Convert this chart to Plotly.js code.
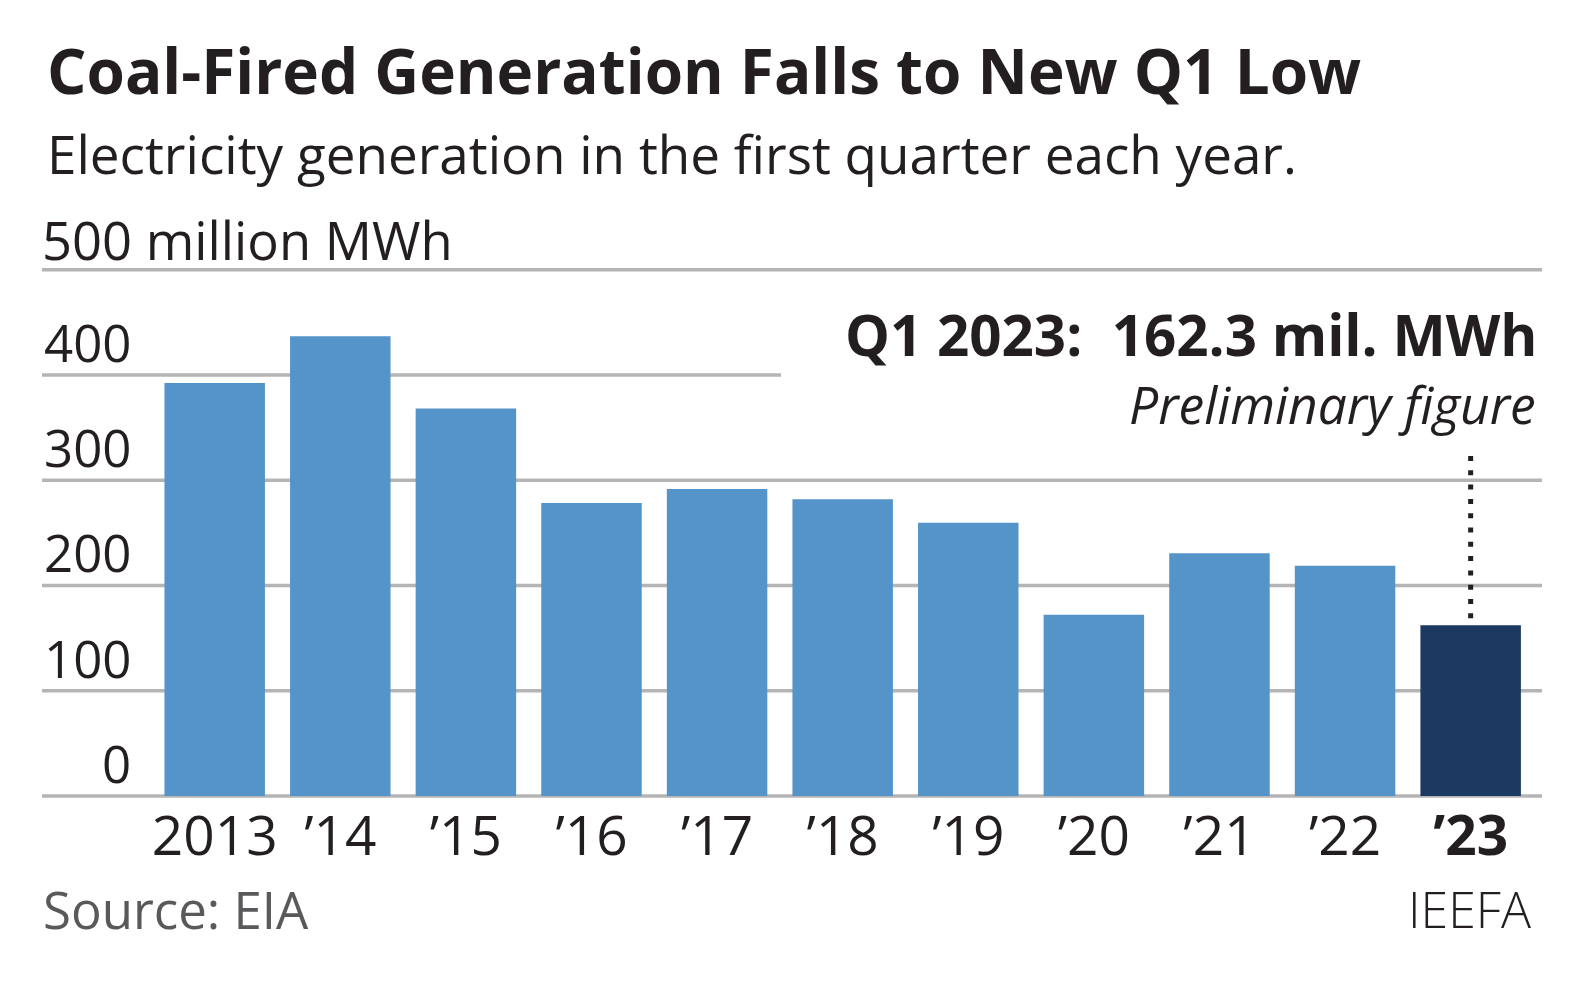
<!DOCTYPE html>
<html>
<head>
<meta charset="utf-8">
<script src="https://cdn.plot.ly/plotly-3.0.1.min.js"></script>
<style>
  html, body { margin: 0; padding: 0; background: #ffffff; }
  #chart { width: 1584px; height: 984px; }
</style>
</head>
<body>
<div id="chart"></div>
<script>
// ---- Data ----
const categories = ['2013', '2014', '2015', '2016', '2017', '2018', '2019', '2020', '2021', '2022', '2023'];
const tickLabels = ['2013', '\u201914', '\u201915', '\u201916', '\u201917', '\u201918', '\u201919', '\u201920', '\u201921', '\u201922', '<b>\u201923</b>'];
const generation = [392.4, 436.8, 368.1, 278.3, 291.6, 281.8, 259.7, 172.2, 230.5, 218.8, 162.3];
const yTickVals = [0, 100, 200, 300, 400];
const yTickText = ['0', '100', '200', '300', '400'];
const gridVals = [0, 100, 200, 300, 400, 500];
const unitLabel = '500 million MWh';
const titleText = 'Coal-Fired Generation Falls to New Q1 Low';
const subtitleText = 'Electricity generation in the first quarter each year.';
const calloutText = 'Q1 2023:\u00a0\u00a0162.3 mil. MWh';
const calloutNote = 'Preliminary figure';
const sourceText = 'Source: EIA';
const creditText = 'IEEFA';

// ---- Style / layout helpers ----
const W = 1584, H = 984;
const M = { l: 42, r: 42, t: 266, b: 184 };
const PW = W - M.l - M.r, PH = H - M.t - M.b;
const fx = px => (px - M.l) / PW;
const fy = py => (H - M.b - py) / PH;

const FONT = 'Open Sans, Noto Sans, Lato, sans-serif';
const INK = '#231f20';
const LIGHT = '#5594c9';
const DARK = '#1b3961';
const GRID = '#b5b5b5';
const lastIdx = categories.length - 1;
const barColors = categories.map((c, i) => i === lastIdx ? DARK : LIGHT);

const trace = {
  type: 'bar',
  x: categories,
  y: generation,
  marker: { color: barColors, line: { width: 0 } },
  hoverinfo: 'skip'
};

const shapes = gridVals.map(v => ({
  type: 'line', layer: 'below',
  xref: 'paper', yref: 'y',
  x0: 0, x1: v === 400 ? fx(781) : 1,
  y0: v, y1: v,
  line: { color: GRID, width: 3.5 }
}));
// dotted connector from the callout down to the highlighted bar
shapes.push({
  type: 'line', layer: 'above',
  xref: 'x', yref: 'y',
  x0: lastIdx, x1: lastIdx,
  y0: generation[lastIdx] + 6.5, y1: 324,
  line: { color: INK, width: 5, dash: '5px,9.3px' }
});

const annotations = [];
function addText(text, xpx, ypx, anchor, size, opts) {
  opts = opts || {};
  annotations.push({
    text: text, xref: 'paper', yref: 'paper',
    x: fx(xpx), y: fy(ypx), xanchor: anchor, yanchor: 'middle',
    showarrow: false,
    font: Object.assign({ family: FONT, size: size, color: INK }, opts.font || {})
  });
}
addText(titleText, 45, 70, 'left', 62, { font: { weight: 700 } });
addText(subtitleText, 45, 153, 'left', 53);
addText(unitLabel, 40, 239, 'left', 52.5);
addText(calloutText, 1539, 334, 'right', 56.5, { font: { weight: 700 } });
addText(calloutNote, 1538, 404, 'right', 51.5, { font: { style: 'italic' } });
addText(sourceText, 41, 909, 'left', 51, { font: { color: '#58595b' } });
addText(creditText, 1533, 909, 'right', 50, { font: { weight: 300 } });

// y tick labels, right-aligned above the gridlines
yTickVals.forEach((v, i) => {
  annotations.push({
    text: yTickText[i], xref: 'paper', yref: 'y',
    x: fx(133), y: v, xanchor: 'right', yanchor: 'bottom', yshift: -4,
    showarrow: false,
    font: { family: FONT, size: 51, color: INK }
  });
});

const layout = {
  width: W, height: H,
  margin: M,
  paper_bgcolor: '#ffffff', plot_bgcolor: 'rgba(0,0,0,0)',
  showlegend: false,
  bargap: 0.2,
  xaxis: {
    type: 'category',
    range: [-1.375, 10.568],
    tickvals: categories, ticktext: tickLabels,
    ticks: '', showgrid: false, zeroline: false, showline: false,
    tickfont: { family: FONT, size: 55, color: INK },
    ticklabelstandoff: -1,
    fixedrange: true
  },
  yaxis: {
    range: [-3.8, 503.5],
    showgrid: false, zeroline: false, showline: false,
    showticklabels: false, ticks: '',
    fixedrange: true
  },
  shapes: shapes,
  annotations: annotations
};

Plotly.newPlot('chart', [trace], layout, { displayModeBar: false, staticPlot: true });
</script>
</body>
</html>
